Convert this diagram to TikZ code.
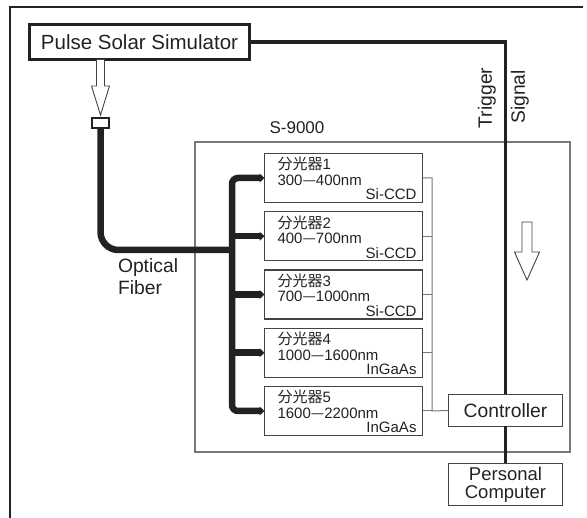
\documentclass[tikz,border=0pt]{standalone}
\usepackage{fontspec}
\setmainfont{Liberation Sans}
\newfontfamily\cjk{Noto Sans CJK JP}
\usetikzlibrary{arrows.meta,calc}
\definecolor{ink}{HTML}{222222}
\definecolor{boxline}{HTML}{444444}
\definecolor{thinline}{HTML}{777777}
\newcommand\hollowarr[5]{%
  \draw[hollowstyle] let \p1=(#1), \p2=(#2) in
    (\x2-#3pt,\y1) -- (\x2-#3pt,\y2+#5pt) -- (\x2-#4pt,\y2+#5pt) -- (\x2,\y2)
    -- (\x2+#4pt,\y2+#5pt) -- (\x2+#3pt,\y2+#5pt) -- (\x2+#3pt,\y1) -- cycle;}
\begin{document}
\begin{tikzpicture}[x=1pt,y=-1pt,
  every node/.style={text=ink, inner sep=0pt, outer sep=0pt},
  hollowstyle/.style={draw=boxline, line width=0.9pt, fill=white, line join=miter},
  frameline/.style={draw=ink, line width=2.2pt},
  pssbox/.style={draw=ink, line width=3pt, minimum width=220, minimum height=35,
    font=\fontsize{20.5}{20.5}\selectfont},
  connbox/.style={draw=ink, line width=2.5pt, minimum width=17, minimum height=10},
  sbox/.style={draw=thinline, line width=1.2pt},
  specbox/.style={draw=boxline, line width=1.2pt, minimum width=158, minimum height=49},
  spectxt/.style={font=\fontsize{15}{15}\selectfont},
  cbox/.style={draw=boxline, line width=1.3pt, minimum width=114, align=center,
    font=\fontsize{19.3}{16.5}\selectfont},
  pcbox/.style={cbox, font=\fontsize{18.5}{18}\selectfont},
  fiber/.style={draw=ink, line width=6.5pt},
  fibertip/.style={-{Triangle[length=5pt,width=9pt]}},
  fiberboth/.style={{Triangle[length=5pt,width=9pt]}-{Triangle[length=5pt,width=9pt]}},
  wire/.style={draw=thinline, line width=1pt},
  trigline/.style={draw=ink, line width=3.5pt},
  label19/.style={font=\fontsize{19.3}{22}\selectfont}
]
\useasboundingbox (0,0) rectangle (587,518);
% outer frame (cropped)
\draw[frameline] (10,518) -- (10,7) -- (583,7);

% S-9000 enclosure
\node[sbox, minimum width=375, minimum height=310] (s9) at (382.5,297) {};
\node[font=\fontsize{17}{17}\selectfont] (s9lab) at (297,128) {S-9000};

% Pulse solar simulator and connector
\node[pssbox] (pss) at (139.5,42) {Pulse Solar Simulator};
\node[connbox] (conn) at (100.5,123) {};
\hollowarr{pss.south}{[yshift=3pt]conn.north}{4}{9}{29}

% spectrometers
\foreach \i/\y/\a/\b/\d in {1/178/300/400/Si-CCD, 2/236.25/400/700/Si-CCD,
    3/294.5/700/1000/Si-CCD, 4/352.75/1000/1600/InGaAs, 5/411/1600/2200/InGaAs}{
  \node[specbox] (spec\i) at (343.5,\y) {};
  \node[spectxt, anchor=base west] (la\i) at ([shift={(13,16.5)}]spec\i.north west) {{\cjk 分光器}\i};
  \node[spectxt, anchor=base west] (lb\i) at ([shift={(13,32)}]spec\i.north west) {\a{\cjk —}\b nm};
  \node[spectxt, anchor=base east] (lc\i) at ([shift={(-6,-2.5)}]spec\i.south east) {\d};
}

% controller and PC
\node[cbox, minimum height=32] (ctrl) at (505.5,410.5) {Controller};
\node[pcbox, minimum height=42] (pc) at (505.5,484.5) {Personal\\Computer};

% optical fiber
\coordinate (fj) at (232,250);
\coordinate (busbot) at (232,411);
\draw[fiber, rounded corners=18] (conn.south) |- (fj);
\draw[fiber, fiberboth, rounded corners=6] (spec1.west) -| (busbot) -- (spec5.west);
\foreach \i in {2,3,4}{
  \draw[fiber, fibertip] (spec\i.west -| busbot) -- (spec\i.west);
}
\node[label19, align=left, anchor=west] (fib) at (118,277) {Optical\\Fiber};

% wires to controller
\coordinate (wbot) at (432,411);
\draw[wire] (spec1.east) -| (wbot) -- (ctrl.west);
\foreach \i in {2,3,4,5}{
  \draw[wire] (spec\i.east) -- (spec\i.east -| wbot);
}

% trigger signal
\draw[trigline] (pss.east) -| (ctrl.north);
\draw[trigline] (ctrl.south) -- (pc.north);
\node[label19, rotate=90] (trig) at (487,98) {Trigger};
\node[label19, rotate=90] (sig) at (520,97) {Signal};

% data flow arrow
\coordinate (da1) at (527,222);
\coordinate (da2) at (527,280);
\hollowarr{da1}{da2}{5}{12.5}{28}
\end{tikzpicture}
\end{document}
